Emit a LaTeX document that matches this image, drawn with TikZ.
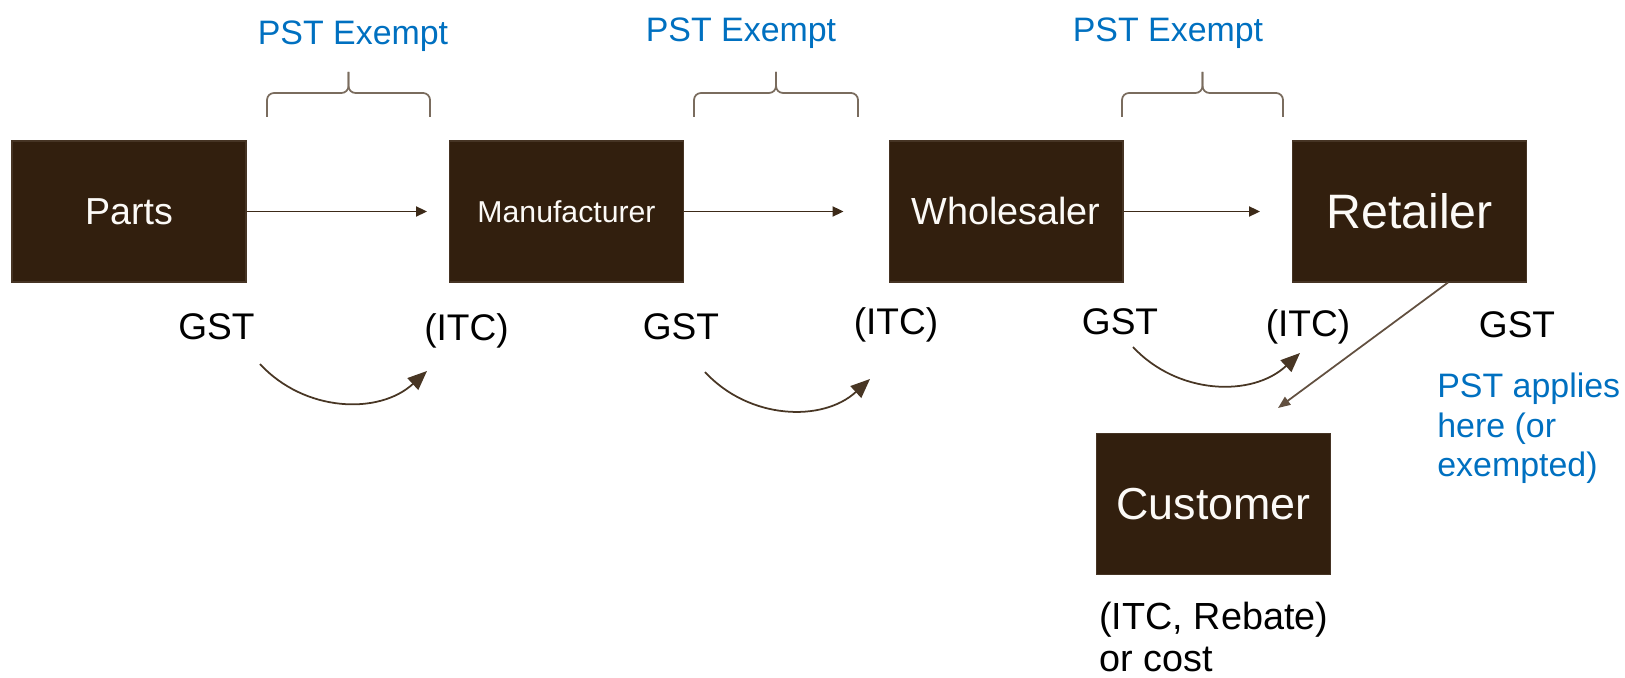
\documentclass[tikz,border=0pt]{standalone}
\usepackage{fontspec}
\setmainfont{Liberation Sans}
\usepackage{tikz}
\usetikzlibrary{arrows.meta}

\definecolor{boxbrown}{RGB}{50,31,14}
\definecolor{boxedge}{RGB}{70,52,36}
\definecolor{linebrown}{RGB}{60,42,24}
\definecolor{arcbrown}{RGB}{72,54,36}
\definecolor{salebrown}{RGB}{98,80,64}
\definecolor{bracegray}{RGB}{122,108,94}
\definecolor{pstblue}{RGB}{0,112,192}

\tikzset{
  party/.style={rectangle, fill=boxbrown, draw=boxedge, line width=0.6pt, text=white!96!brown,
    minimum width=4.68cm, minimum height=2.82cm, inner sep=0pt},
  taxlabel/.style={font=\fontsize{21.1}{25}\selectfont, inner sep=0pt, anchor=base},
  pstnote/.style={text=pstblue, font=\fontsize{19.3}{22.4}\selectfont, inner sep=0pt},
  flow/.style={-{Triangle[length=6.2pt, width=5.7pt]}, line width=1pt, draw=linebrown},
  credit/.style={-{Triangle[length=11pt, width=9pt]}, line width=1pt, draw=arcbrown},
  sale/.style={-{Triangle[length=7pt, width=5.5pt]}, line width=1pt, draw=salebrown},
  exemptbrace/.style={line width=1pt, draw=bracegray, rounded corners=0.14cm},
}

\begin{document}
\begin{tikzpicture}[x=0.02cm, y=-0.02cm]
    \useasboundingbox (0,0) rectangle (1625,678);

    % Supply chain boxes
    \node[party, font=\fontsize{21.4}{26}\selectfont] (parts) at (129,211.5) {Parts};
    \node[party, font=\fontsize{17.2}{21}\selectfont] (manuf) at (566.5,211.5) {Manufacturer};
    \node[party, font=\fontsize{21.5}{26}\selectfont] (whole) at (1006,211.5) {Wholesaler};
    \node[party, font=\fontsize{27.5}{33}\selectfont] (retail) at (1409.5,211.5) {Retailer};
    \node[party, font=\fontsize{25.5}{31}\selectfont] (cust) at (1213.5,504) {Customer};

    % Flow arrows
    \draw[flow, shorten >=0.44cm] (parts) -- (manuf);
    \draw[flow, shorten >=0.9cm] (manuf) -- (whole);
    \draw[flow, shorten >=0.64cm] (whole) -- (retail);
    \coordinate (tocust) at (1278,408);
    \draw[sale] ([xshift=0.77cm]retail.south) -- (tocust);

    % Braces
    \draw[exemptbrace] (267,117) -- (267,93) -- (348.5,93) -- (348.5,72);
    \draw[exemptbrace] (430,117) -- (430,93) -- (348.5,93) -- (348.5,72);
    \draw[exemptbrace] (694,117) -- (694,93) -- (776,93) -- (776,72);
    \draw[exemptbrace] (858,117) -- (858,93) -- (776,93) -- (776,72);
    \draw[exemptbrace] (1122,117) -- (1122,93) -- (1202.5,93) -- (1202.5,72);
    \draw[exemptbrace] (1283,117) -- (1283,93) -- (1202.5,93) -- (1202.5,72);

    % PST notes
    \node[pstnote, anchor=base] (exempt1) at (353,45) {PST Exempt};
    \node[pstnote, anchor=base] (exempt2) at (741,42) {PST Exempt};
    \node[pstnote, anchor=base] (exempt3) at (1168,42) {PST Exempt};
    \node[pstnote, anchor=north west, align=left] (applies) at (1437,373) {PST applies\\here (or\\exempted)};

    % GST and ITC labels
    \node[taxlabel] (gst1) at (216.5,340) {GST};
    \node[taxlabel] (itc1) at (466.5,341) {(ITC)};
    \node[taxlabel] (gst2) at (681,340) {GST};
    \node[taxlabel] (itc2) at (896,335) {(ITC)};
    \node[taxlabel] (gst3) at (1120,335) {GST};
    \node[taxlabel] (itc3) at (1308,337) {(ITC)};
    \node[taxlabel] (gst4) at (1517,338) {GST};
    \node[inner sep=0pt, anchor=north west, align=left,
      font=\fontsize{21.5}{23.5}\selectfont] (custnote) at (1099,602) {(ITC, Rebate)\\or cost};

    % Credit arcs
    \coordinate (arc1a) at (260,364);
    \coordinate (arc1b) at (427,371);
    \coordinate (arc2a) at (705,372);
    \coordinate (arc2b) at (870,379);
    \coordinate (arc3a) at (1133,347);
    \coordinate (arc3b) at (1300,353);
    \draw[credit] (arc1a) to[bend right=45] (arc1b);
    \draw[credit] (arc2a) to[bend right=45] (arc2b);
    \draw[credit] (arc3a) to[bend right=45] (arc3b);
\end{tikzpicture}
\end{document}
